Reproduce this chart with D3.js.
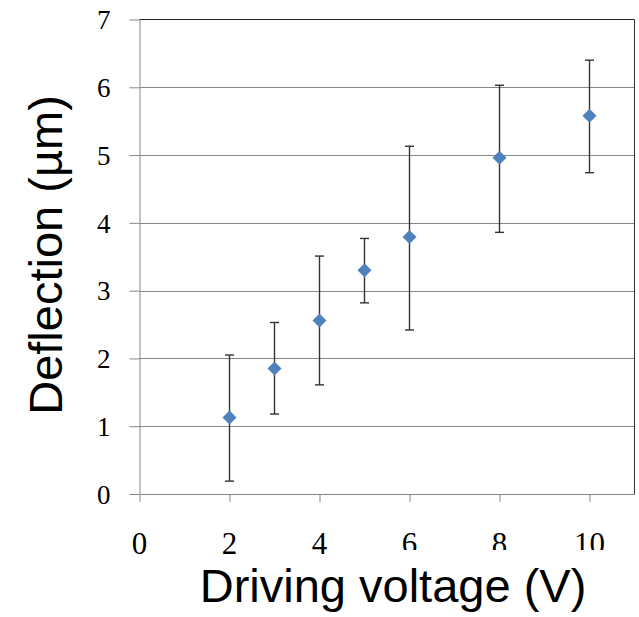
<!DOCTYPE html>
<html lang="en">
<head>
<meta charset="utf-8">
<title>Deflection vs driving voltage</title>
<script type="text/javascript" src="https://d3js.org/d3.v7.min.js"></script>
<style>

body {
  margin: 0;
  background-color: #fff;
}

.grid line {
  stroke: #868686;
  stroke-width: 1;
}

.axis path,
.axis line {
  stroke: #868686;
  stroke-width: 1;
  fill: none;
}

.axis text,
.xlabels text {
  font-family: "Liberation Serif", "Times New Roman", serif;
  fill: #000;
}

.errorbar line {
  stroke: #333;
  stroke-width: 1.4;
}

.point {
  fill: #4f81bd;
}

.title {
  font-family: "Liberation Sans", Arial, sans-serif;
  font-size: 47px;
  fill: #000;
}

</style>
</head>
<body>

<div id="chart"></div>

<script type="text/javascript">

// values
var voltages = [2, 3, 4, 5, 6, 8, 10];
var deflections = [1.13, 1.85, 2.56, 3.30, 3.79, 4.96, 5.58];
var lowBounds = [0.19, 1.18, 1.61, 2.82, 2.42, 3.86, 4.74];
var highBounds = [2.05, 2.53, 3.51, 3.77, 5.13, 6.03, 6.40];

var xTicks = [0, 2, 4, 6, 8, 10];
var yTicks = [0, 1, 2, 3, 4, 5, 6, 7];

var width = 639,
    height = 617;

var plot = {left: 139.5, right: 634.5, top: 19.5, bottom: 494};

var svg = d3.select("#chart").append("svg")
    .attr("width", width)
    .attr("height", height);

var x = d3.scaleLinear().domain([0, 11]).range([plot.left, plot.right]);
var y = d3.scaleLinear().domain([0, 7]).range([plot.bottom, plot.top]);

// horizontal gridlines
svg.append("g")
    .attr("class", "grid")
    .selectAll("line")
    .data(yTicks.slice(1, -1))
    .enter().append("line")
        .attr("x1", plot.left)
        .attr("x2", plot.right)
        .attr("y1", function(d) { return Math.round(y(d)) + 0.5; })
        .attr("y2", function(d) { return Math.round(y(d)) + 0.5; });

// top and right border are darker
svg.append("line")
    .attr("x1", plot.left).attr("x2", plot.right)
    .attr("y1", y(7)).attr("y2", y(7))
    .attr("stroke", "#222").attr("stroke-width", 1);

svg.append("line")
    .attr("x1", plot.right).attr("x2", plot.right)
    .attr("y1", y(7)).attr("y2", plot.bottom)
    .attr("stroke", "#333").attr("stroke-width", 1);

// y axis
var yAxis = svg.append("g")
    .attr("class", "axis")
    .attr("transform", "translate(" + plot.left + ",0)")
    .call(d3.axisLeft(y).tickValues(yTicks).tickFormat(d3.format("d"))
        .tickSize(10).tickSizeOuter(0).tickPadding(0));

yAxis.selectAll("text")
    .attr("x", -29)
    .attr("dy", "0.34em")
    .style("font-size", "27px")
    .style("text-anchor", "end");

// x axis (labels drawn apart so they can be clipped like the original)
svg.append("g")
    .attr("class", "axis")
    .attr("transform", "translate(0," + plot.bottom + ")")
    .call(d3.axisBottom(x).tickValues(xTicks).tickFormat("")
        .tickSize(8).tickSizeOuter(0));

var clip = svg.append("defs").append("clipPath").attr("id", "xclip");
clip.append("rect").attr("x", 0).attr("y", 0).attr("width", 370).attr("height", height);
clip.append("rect").attr("x", 370).attr("y", 0).attr("width", width - 370).attr("height", 550);

svg.append("g")
    .attr("class", "xlabels")
    .attr("clip-path", "url(#xclip)")
    .selectAll("text")
    .data(xTicks)
    .enter().append("text")
        .attr("x", function(d) { return x(d); })
        .attr("y", 554)
        .style("font-size", "31px")
        .style("text-anchor", "middle")
        .text(function(d) { return d; });

// error bars
var capHalf = 4.5;
var bars = svg.append("g")
    .attr("class", "errorbar")
    .selectAll("g")
    .data(voltages)
    .enter().append("g");

bars.append("line")
    .attr("x1", function(d) { return x(d); })
    .attr("x2", function(d) { return x(d); })
    .attr("y1", function(d, i) { return y(lowBounds[i]); })
    .attr("y2", function(d, i) { return y(highBounds[i]); });

bars.append("line")
    .attr("x1", function(d) { return x(d) - capHalf; })
    .attr("x2", function(d) { return x(d) + capHalf; })
    .attr("y1", function(d, i) { return y(lowBounds[i]); })
    .attr("y2", function(d, i) { return y(lowBounds[i]); });

bars.append("line")
    .attr("x1", function(d) { return x(d) - capHalf; })
    .attr("x2", function(d) { return x(d) + capHalf; })
    .attr("y1", function(d, i) { return y(highBounds[i]); })
    .attr("y2", function(d, i) { return y(highBounds[i]); });

// diamond markers
var r = 7;
svg.append("g")
    .selectAll("path")
    .data(voltages)
    .enter().append("path")
        .attr("class", "point")
        .attr("d", function(d, i) {
            var cx = x(d), cy = y(deflections[i]);
            return "M" + cx + "," + (cy - r) + "L" + (cx + r) + "," + cy +
                   "L" + cx + "," + (cy + r) + "L" + (cx - r) + "," + cy + "Z";
        });

// axis titles
svg.append("text")
    .attr("class", "title")
    .attr("x", 393)
    .attr("y", 602)
    .style("text-anchor", "middle")
    .text("Driving voltage (V)");

svg.append("text")
    .attr("class", "title")
    .attr("transform", "translate(62,255) rotate(-90)")
    .style("text-anchor", "middle")
    .text("Deflection (µm)");

</script>

</body>
</html>
